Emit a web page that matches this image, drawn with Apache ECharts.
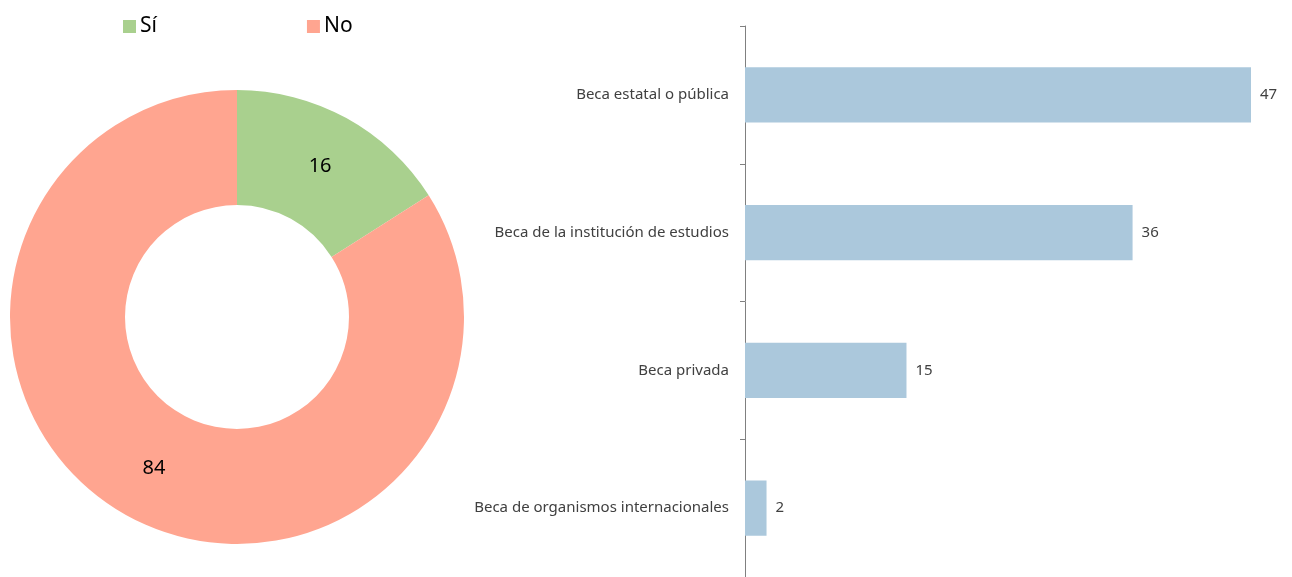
<!DOCTYPE html>
<html>
<head>
<meta charset="utf-8">
<script src="https://cdn.jsdelivr.net/npm/echarts@6/dist/echarts.min.js"></script>
<style>
  html, body { margin: 0; padding: 0; background: #fff; }
  #chart { width: 1292px; height: 577px; }
</style>
</head>
<body>
<div id="chart"></div>
<script>
const pieNames = ["Sí", "No"]
const pieValues = [16, 84]
const pieColors = ["#a9d08e", "#ffa590"]

const becaCategories = [
  "Beca estatal o pública",
  "Beca de la institución de estudios",
  "Beca privada",
  "Beca de organismos internacionales",
]
const becaValues = [47, 36, 15, 2]

const font = "Noto Sans"

const chart = echarts.init(document.getElementById("chart"), undefined, {
  renderer: "canvas",
})

chart.setOption({
  backgroundColor: "#fff",
  animation: false,
  textStyle: { fontFamily: font },
  legend: {
    left: 118,
    top: 11,
    itemWidth: 13,
    itemHeight: 13,
    itemGap: 150,
    icon: "rect",
    textStyle: { fontSize: 21, color: "#000", fontFamily: font, padding: [0, 0, 0, -1] },
    data: pieNames,
  },
  grid: {
    left: 745,
    right: 41,
    top: 26,
    height: 555,
    containLabel: false,
  },
  xAxis: {
    type: "value",
    min: 0,
    max: 47,
    show: false,
  },
  yAxis: {
    type: "category",
    inverse: true,
    data: becaCategories,
    axisLine: { show: true, lineStyle: { color: "#808080", width: 1 } },
    axisTick: { show: true, length: 5, lineStyle: { color: "#808080" } },
    axisLabel: { color: "#404040", fontSize: 15, fontFamily: font, margin: 16 },
    splitLine: { show: false },
  },
  series: [
    {
      type: "pie",
      radius: [112, 227],
      center: [237, 317],
      startAngle: 90,
      clockwise: true,
      silent: true,
      label: {
        show: true,
        position: "inside",
        formatter: "{c}",
        fontSize: 20,
        color: "#000",
        fontFamily: font,
      },
      labelLine: { show: false },
      data: pieNames.map((n, i) => ({
        name: n,
        value: pieValues[i],
        itemStyle: { color: pieColors[i] },
      })),
    },
    {
      type: "bar",
      data: becaValues,
      barCategoryGap: "60%",
      itemStyle: { color: "#abc8dc" },
      label: {
        show: true,
        position: "right",
        distance: 9,
        color: "#404040",
        fontSize: 15,
        fontFamily: font,
      },
    },
  ],
})
</script>
</body>
</html>
